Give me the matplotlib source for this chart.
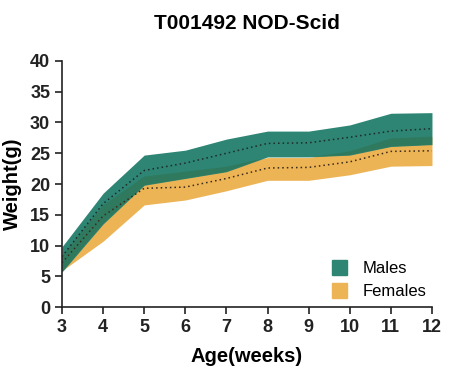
import numpy as np
import matplotlib
matplotlib.use("Agg")
import matplotlib.pyplot as plt
from matplotlib.patches import Patch

plt.rcParams['font.family'] = ['Liberation Sans', 'DejaVu Sans']

# data (weight in g)
weeks = np.array([3, 4, 5, 6, 7, 8, 9, 10, 11, 12])
male_hi = np.array([9.8, 18.5, 24.7, 25.5, 27.3, 28.6, 28.6, 29.6, 31.5, 31.6])
male_mean = np.array([8.2, 16.8, 22.2, 23.4, 25.0, 26.6, 26.7, 27.6, 28.6, 29.0])
male_lo = np.array([5.7, 13.5, 19.8, 20.9, 22.0, 24.4, 24.4, 24.7, 26.1, 26.4])
female_hi = np.array([8.3, 16.5, 21.2, 22.0, 22.8, 24.3, 24.3, 25.3, 27.4, 27.7])
female_mean = np.array([7.2, 14.8, 19.3, 19.5, 20.9, 22.6, 22.7, 23.6, 25.3, 25.4])
female_lo = np.array([5.9, 10.7, 16.6, 17.4, 18.9, 20.6, 20.6, 21.5, 22.9, 23.0])

green = '#2e8574'
yellow = '#edb456'
overlap = '#2f7a5e'

fig = plt.figure(figsize=(4.66, 3.74), dpi=100)
ax = fig.add_axes([0.133, 0.179, 0.794, 0.658])

ax.fill_between(weeks, female_lo, female_hi, color=yellow, lw=0)
ax.fill_between(weeks, male_lo, male_hi, color=green, lw=0)
ax.fill_between(weeks, male_lo, female_hi, where=female_hi > male_lo,
                interpolate=True, color=overlap, lw=0)
ax.plot(weeks, male_mean, ls=(0, (1, 2)), color='#1e2a2a', lw=1.1)
ax.plot(weeks, female_mean, ls=(0, (1, 2)), color='#3a2a1a', lw=1.1)

ax.set_xlim(3, 12)
ax.set_ylim(0, 40)
ax.set_xticks(weeks)
ax.set_yticks(np.arange(0, 41, 5))
for s in ['top', 'right']:
    ax.spines[s].set_visible(False)
for s in ['left', 'bottom']:
    ax.spines[s].set_linewidth(1.2)
    ax.spines[s].set_color('#222222')
ax.tick_params(direction='out', length=5, width=1.2, colors='#222222',
               labelsize=13)
for lab in ax.get_xticklabels() + ax.get_yticklabels():
    lab.set_fontweight('bold')

ax.set_xlabel('Age(weeks)', fontsize=14.5, fontweight='bold', labelpad=8)
ax.set_ylabel('Weight(g)', fontsize=14.5, fontweight='bold', labelpad=6)
ax.set_title('T001492 NOD-Scid', fontsize=15, fontweight='bold', pad=23)

handles = [Patch(color=green, label='Males'), Patch(color=yellow, label='Females')]
ax.legend(handles=handles, loc='lower right', bbox_to_anchor=(1.025, -0.03),
          frameon=False, fontsize=12, handlelength=0.9, handleheight=1.0,
          handletextpad=0.9, labelspacing=0.45)

fig.savefig('out.png', dpi=100, facecolor='white')
